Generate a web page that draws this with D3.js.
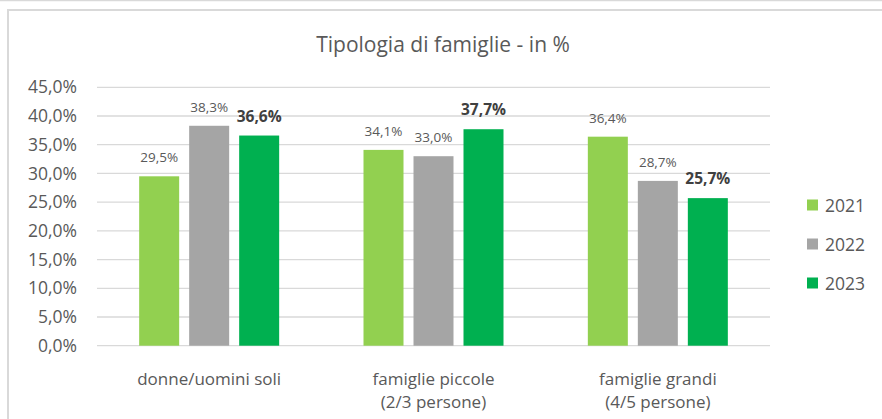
<!DOCTYPE html>
<html>
<head>
<meta charset="utf-8">
<script src="https://cdn.jsdelivr.net/npm/d3@7"></script>
<style>
  body { margin: 0; background: #fff; }
  svg text { font-family: "Open Sans", sans-serif; }
</style>
</head>
<body>
<div id="graf"></div>
<script>
// Data
const categorie = ["donne/uomini soli", "famiglie piccole|(2/3 persone)", "famiglie grandi|(4/5 persone)"]
const anni = ["2021", "2022", "2023"]
const v2021 = [29.5, 34.1, 36.4]
const v2022 = [38.3, 33.0, 28.7]
const v2023 = [36.6, 37.7, 25.7]
const yTicks = [0, 5, 10, 15, 20, 25, 30, 35, 40, 45]
const colori = ["#92D050", "#A5A5A5", "#00B050"]

const serie = [v2021, v2022, v2023]
const data = categorie.map((c, i) => ({
  cat: c,
  valori: anni.map((a, j) => ({ anno: a, v: serie[j][i] }))
}))

const anchoTotal = 882
const altoTotal = 419
const margins = { left: 97, top: 87.3, right: 112, bottom: 73.3 }
const ancho = anchoTotal - margins.left - margins.right
const alto = altoTotal - margins.top - margins.bottom

const svg = d3.select("#graf")
  .append("svg")
  .attr("width", anchoTotal)
  .attr("height", altoTotal)

// cornice
svg.append("line")
  .attr("x1", 0).attr("x2", anchoTotal).attr("y1", 0.5).attr("y2", 0.5)
  .attr("stroke", "#d9d9d9").attr("stroke-width", 1.5)
svg.append("path")
  .attr("d", `M8,${altoTotal} V10 H${anchoTotal}`)
  .attr("fill", "none")
  .attr("stroke", "#d9d9d9")
  .attr("stroke-width", 2)

svg.append("text")
  .attr("x", 443)
  .attr("y", 52)
  .attr("text-anchor", "middle")
  .attr("font-size", 21)
  .attr("fill", "#595959")
  .text("Tipologia di famiglie - in %")

const g = svg.append("g")
  .attr("transform", `translate(${margins.left}, ${margins.top})`)

// Escaladores
const y = d3.scaleLinear().domain([0, 45]).range([alto, 0])

const x0 = d3.scaleBand()
  .domain(categorie)
  .range([0, ancho])

const x1 = d3.scaleBand()
  .domain(anni)
  .range([(x0.bandwidth() - 140) / 2, (x0.bandwidth() + 140) / 2])
  .paddingInner(0.2)

const color = d3.scaleOrdinal().domain(anni).range(colori)

// griglia
g.append("g")
  .selectAll("line")
  .data(yTicks)
  .join("line")
  .attr("x1", 0)
  .attr("x2", ancho)
  .attr("y1", d => y(d))
  .attr("y2", d => y(d))
  .attr("stroke", "#d9d9d9")
  .attr("stroke-width", 1.3)

// asse y
const yAxis = d3.axisLeft(y)
  .tickValues(yTicks)
  .tickSize(0)
  .tickPadding(20)
  .tickFormat(d => d3.format(".1f")(d).replace(".", ",") + "%")
const yAxisGroup = g.append("g").call(yAxis)
yAxisGroup.select(".domain").remove()
yAxisGroup.selectAll("text")
  .attr("font-size", 17.5)
  .attr("fill", "#595959")

// asse x
const xAxisGroup = g.append("g")
  .attr("transform", `translate(0, ${alto})`)
  .call(d3.axisBottom(x0).tickSize(0).tickFormat(""))
xAxisGroup.select(".domain").remove()
xAxisGroup.selectAll(".tick text").remove()
xAxisGroup.selectAll(".tick")
  .append("text")
  .attr("text-anchor", "middle")
  .attr("font-size", 17)
  .attr("fill", "#595959")
  .selectAll("tspan")
  .data(d => d.split("|"))
  .join("tspan")
  .attr("x", 0)
  .attr("y", (d, i) => 39 + i * 23)
  .text(d => d)

// barre
const gruppi = g.selectAll(".gruppo")
  .data(data)
  .join("g")
  .attr("class", "gruppo")
  .attr("transform", d => `translate(${x0(d.cat)}, 0)`)

gruppi.selectAll("rect")
  .data(d => d.valori)
  .join("rect")
  .attr("x", d => x1(d.anno))
  .attr("y", d => y(d.v))
  .attr("width", x1.bandwidth())
  .attr("height", d => alto - y(d.v))
  .attr("fill", d => color(d.anno))

gruppi.selectAll(".etichetta")
  .data(d => d.valori)
  .join("text")
  .attr("class", "etichetta")
  .attr("x", d => x1(d.anno) + x1.bandwidth() / 2)
  .attr("y", d => y(d.v) - 14)
  .attr("text-anchor", "middle")
  .attr("font-size", d => d.anno === "2023" ? 15.5 : 13.5)
  .attr("font-weight", d => d.anno === "2023" ? "bold" : "normal")
  .attr("fill", d => d.anno === "2023" ? "#404040" : "#595959")
  .text(d => d3.format(".1f")(d.v).replace(".", ",") + "%")

// legenda
const legenda = svg.append("g")
  .attr("transform", "translate(807, 205)")
const voce = legenda.selectAll("g")
  .data(anni)
  .join("g")
  .attr("transform", (d, i) => `translate(0, ${i * 39})`)
voce.append("rect")
  .attr("x", 0).attr("y", -5.5)
  .attr("width", 11).attr("height", 11)
  .attr("fill", d => color(d))
voce.append("text")
  .attr("x", 18)
  .attr("y", 6.5)
  .attr("font-size", 17.5)
  .attr("fill", "#595959")
  .text(d => d)
</script>
</body>
</html>
